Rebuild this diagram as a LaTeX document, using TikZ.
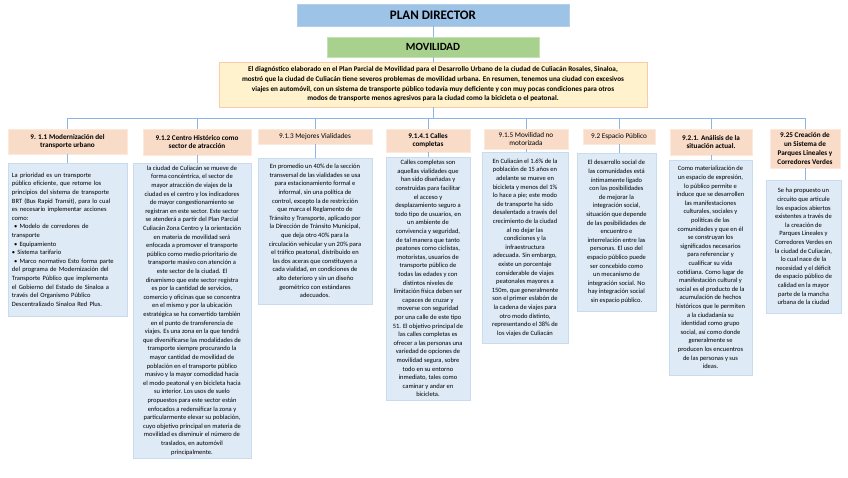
\documentclass[tikz,border=0pt]{standalone}
\usepackage{fontspec}
\setmainfont{Carlito}
\definecolor{titlefill}{HTML}{9DC3E6}
\definecolor{titledraw}{HTML}{B4CDE8}
\definecolor{movfill}{HTML}{A9D18E}
\definecolor{movdraw}{HTML}{C5E0B4}
\definecolor{parafill}{HTML}{FFF2CC}
\definecolor{paradraw}{HTML}{F8CBAD}
\definecolor{hdrfill}{HTML}{F9DCC8}
\definecolor{hdrdraw}{HTML}{FCE9DC}
\definecolor{txtfill}{HTML}{DEEAF6}
\definecolor{txtdraw}{HTML}{C9DCEF}
\definecolor{connc}{HTML}{8EB4E3}
\begin{document}
\begin{tikzpicture}[x=1pt,y=-1pt,
  box/.style={rectangle, inner sep=0pt, line width=0.6pt, align=center},
  titlebox/.style={box, fill=titlefill, draw=titledraw, font=\fontsize{13}{15}\selectfont\bfseries},
  movbox/.style={box, fill=movfill, draw=movdraw, font=\fontsize{11}{13}\selectfont\bfseries},
  parabox/.style={box, fill=parafill, draw=paradraw, font=\fontsize{7.2}{9.7}\selectfont\bfseries},
  hdrbox/.style={box, fill=hdrfill, draw=hdrdraw, font=\fontsize{7.2}{8.8}\selectfont\bfseries},
  hdrlight/.style={box, fill=hdrfill, draw=hdrdraw, font=\fontsize{7.2}{8.8}\selectfont},
  txtbox/.style={box, fill=txtfill, draw=txtdraw, font=\fontsize{6.5}{8.6}\selectfont},
  conn/.style={draw=connc, line width=0.9pt}
]
\useasboundingbox (0,0) rectangle (848,477);
\fill[white] (0,0) rectangle (848,477);

\node[titlebox, minimum width=272pt, minimum height=22pt] (title) at (433,15) {PLAN DIRECTOR};
\node[movbox, minimum width=212pt, minimum height=20pt] (mov) at (433,47) {MOVILIDAD};
\node[parabox, minimum width=428pt, minimum height=45pt] (para) at (433,84.5) {El diagnóstico elaborado en el Plan Parcial de Movilidad para el Desarrollo Urbano de la ciudad de Culiacán Rosales, Sinaloa,\\
mostró que la ciudad de Culiacán tiene severos problemas de movilidad urbana. En resumen, tenemos una ciudad con excesivos\\
viajes en automóvil, con un sistema de transporte público todavía muy deficiente y con muy pocas condiciones para otros\\
modos de transporte menos agresivos para la ciudad como la bicicleta o el peatonal.};
\coordinate (bus) at (0,118);

% headers
\node[hdrbox, minimum width=119pt, minimum height=25pt] (h1) at (67.5,141.5) {9. 1.1 Modernización del\\ transporte urbano};
\node[hdrbox, minimum width=108pt, minimum height=26pt] (h2) at (197,142) {9.1.2 Centro Histórico como\\ sector de atracción};
\node[hdrlight, minimum width=114pt, minimum height=15pt] (h3) at (315,136.5) {9.1.3 Mejores Vialidades};
\node[hdrbox, minimum width=84pt, minimum height=23pt] (h4) at (428,140.5) {9.1.4.1 Calles\\ completas};
\node[hdrlight, minimum width=84pt, minimum height=20pt] (h5) at (526,139) {9.1.5 Movilidad no\\ motorizada};
\node[hdrlight, minimum width=72pt, minimum height=15pt] (h6) at (619,136.5) {9.2 Espacio Público};
\node[hdrbox, minimum width=82pt, minimum height=26pt] (h7) at (711,142) {9.2.1. Análisis de la\\ situación actual.};
\node[hdrbox, minimum width=70pt, minimum height=39pt] (h8) at (805,148.5) {9.25 Creación de\\ un Sistema de\\ Parques Lineales y\\ Corredores Verdes};

% text boxes
\node[txtbox, minimum width=119pt, minimum height=153pt, text width=111pt, align=left] (t1) at (67.5,239.5) {La prioridad es un transporte\\
público eficiente, que retome los\\
principios del sistema de transporte\\
BRT (Bus Rapid Transit), para lo cual\\
es necesario implementar acciones\\
como:\\
\ • Modelo de corredores de\\
transporte\\
\ • Equipamiento\\
• Sistema tarifario\\
\ • Marco normativo Esto forma parte\\
del programa de Modernización del\\
Transporte Público que implementa\\
el Gobierno del Estado de Sinaloa a\\
través del Organismo Público\\
Descentralizado Sinaloa Red Plus.};

\node[txtbox, minimum width=118pt, minimum height=295pt] (t2) at (192,310.5) {la ciudad de Culiacán se mueve de\\
forma concéntrica, el sector de\\
mayor atracción de viajes de la\\
ciudad es el centro y los indicadores\\
de mayor congestionamiento se\\
registran en este sector. Este sector\\
se atenderá a partir del Plan Parcial\\
Culiacán Zona Centro y la orientación\\
en materia de movilidad será\\
enfocada a promover el transporte\\
público como medio prioritario de\\
transporte masivo con atención a\\
este sector de la ciudad. El\\
dinamismo que este sector registra\\
es por la cantidad de servicios,\\
comercio y oficinas que se concentra\\
en el mismo y por la ubicación\\
estratégica se ha convertido también\\
en el punto de transferencia de\\
viajes. Es una zona en la que tendrá\\
que diversificarse las modalidades de\\
transporte siempre procurando la\\
mayor cantidad de movilidad de\\
población en el transporte público\\
masivo y la mayor comodidad hacia\\
el modo peatonal y en bicicleta hacia\\
su interior. Los usos de suelo\\
propuestos para este sector están\\
enfocados a redensificar la zona y\\
particularmente elevar su población,\\
cuyo objetivo principal en materia de\\
movilidad es disminuir el número de\\
traslados, en automóvil\\
principalmente.};

\node[txtbox, minimum width=114pt, minimum height=146pt] (t3) at (315,231) {En promedio un 40\% de la sección\\
transversal de las vialidades se usa\\
para estacionamiento formal e\\
informal, sin una política de\\
control, excepto la de restricción\\
que marca el Reglamento de\\
Tránsito y Transporte, aplicado por\\
la Dirección de Tránsito Municipal,\\
que deja otro 40\% para la\\
circulación vehicular y un 20\% para\\
el tráfico peatonal, distribuido en\\
las dos aceras que constituyen a\\
cada vialidad, en condiciones de\\
alto deterioro y sin un diseño\\
geométrico con estándares\\
adecuados.};

\node[txtbox, minimum width=84pt, minimum height=243pt] (t4) at (428,278.5) {Calles completas son\\
aquellas vialidades que\\
han sido diseñadas y\\
construidas para facilitar\\
el acceso y\\
desplazamiento seguro a\\
todo tipo de usuarios, en\\
un ambiente de\\
convivencia y seguridad,\\
de tal manera que tanto\\
peatones como ciclistas,\\
motoristas, usuarios de\\
transporte público de\\
todas las edades y con\\
distintos niveles de\\
limitación física deben ser\\
capaces de cruzar y\\
moverse con seguridad\\
por una calle de este tipo\\
51. El objetivo principal de\\
las calles completas es\\
ofrecer a las personas una\\
variedad de opciones de\\
movilidad segura, sobre\\
todo en su entorno\\
inmediato, tales como\\
caminar y andar en\\
bicicleta.};

\node[txtbox, minimum width=86pt, minimum height=191pt] (t5) at (525,247.5) {En Culiacán el 1.6\% de la\\
población de 15 años en\\
adelante se mueve en\\
bicicleta y menos del 1\%\\
lo hace a pie; este modo\\
de transporte ha sido\\
desalentado a través del\\
crecimiento de la ciudad\\
al no dejar las\\
condiciones y la\\
infraestructura\\
adecuada. Sin embargo,\\
existe un porcentaje\\
considerable de viajes\\
peatonales mayores a\\
150m, que generalmente\\
son el primer eslabón de\\
la cadena de viajes para\\
otro modo distinto,\\
representando el 38\% de\\
los viajes de Culiacán};

\node[txtbox, minimum width=79pt, minimum height=158pt] (t6) at (616.5,232) {El desarrollo social de\\
las comunidades está\\
íntimamente ligado\\
con las posibilidades\\
de mejorar la\\
integración social,\\
situación que depende\\
de las posibilidades de\\
encuentro e\\
interrelación entre las\\
personas. El uso del\\
espacio público puede\\
ser concebido como\\
un mecanismo de\\
integración social. No\\
hay integración social\\
sin espacio público.};

\node[txtbox, minimum width=83pt, minimum height=215pt] (t7) at (710.5,267.5) {Como materialización de\\
un espacio de expresión,\\
lo público permite e\\
induce que se desarrollen\\
las manifestaciones\\
culturales, sociales y\\
políticas de las\\
comunidades y que en él\\
se construyan los\\
significados necesarios\\
para referenciar y\\
cualificar su vida\\
cotidiana. Como lugar de\\
manifestación cultural y\\
social es el producto de la\\
acumulación de hechos\\
históricos que le permiten\\
a la ciudadanía su\\
identidad como grupo\\
social, así como donde\\
generalmente se\\
producen los encuentros\\
de las personas y sus\\
ideas.};

\node[txtbox, minimum width=75pt, minimum height=133pt] (t8) at (803.5,246.5) {Se ha propuesto un\\
circuito que articule\\
los espacios abiertos\\
existentes a través de\\
la creación de\\
Parques Lineales y\\
Corredores Verdes en\\
la ciudad de Culiacán,\\
lo cual nace de la\\
necesidad y el déficit\\
de espacio público de\\
calidad en la mayor\\
parte de la mancha\\
urbana de la ciudad};

% connectors
\draw[conn] (title.south) -- (mov.north);
\draw[conn] (mov.south) -- (para.north);
\draw[conn] (para.south) -- (para.south |- bus);
\draw[conn] (h1.north |- bus) -- (h8.north |- bus);
\foreach \i in {1,...,8} {
  \draw[conn] (h\i.north |- bus) -- (h\i.north);
  \draw[conn] (h\i.south) -- (h\i.south |- t\i.north);
}
\end{tikzpicture}
\end{document}
